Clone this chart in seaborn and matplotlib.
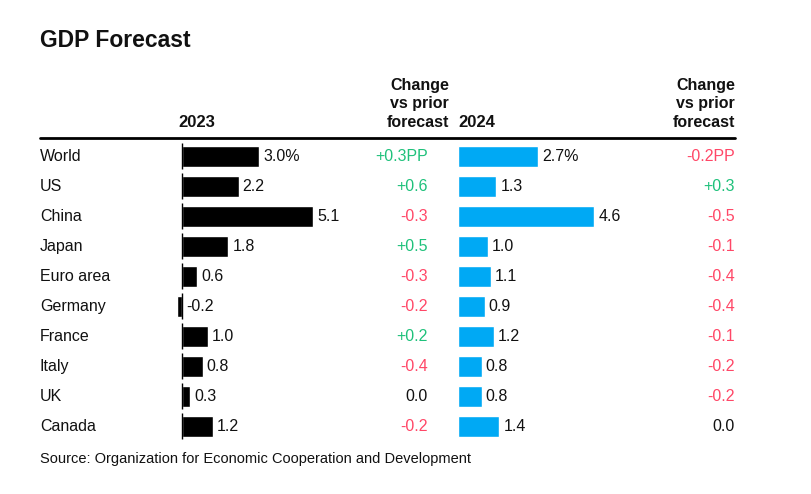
import numpy as np
import pandas as pd
import seaborn as sns
import matplotlib.pyplot as plt
from matplotlib.lines import Line2D
from matplotlib.transforms import blended_transform_factory

# Data
countries = ['World', 'US', 'China', 'Japan', 'Euro area',
             'Germany', 'France', 'Italy', 'UK', 'Canada']
gdp_2023 = [3.0, 2.2, 5.1, 1.8, 0.6, -0.2, 1.0, 0.8, 0.3, 1.2]
chg_2023 = [0.3, 0.6, -0.3, 0.5, -0.3, -0.2, 0.2, -0.4, 0.0, -0.2]
gdp_2024 = [2.7, 1.3, 4.6, 1.0, 1.1, 0.9, 1.2, 0.8, 0.8, 1.4]
chg_2024 = [-0.2, 0.3, -0.5, -0.1, -0.4, -0.4, -0.1, -0.2, -0.2, 0.0]

df = pd.DataFrame({'country': countries, 'y2023': gdp_2023, 'y2024': gdp_2024})

sns.set_theme(style='white')
plt.rcParams['font.family'] = ['Liberation Sans', 'DejaVu Sans']

W, H = 812, 494
fig = plt.figure(figsize=(W / 100, H / 100), dpi=100)


def fx(px):
    return px / W


def fy(py):
    return 1 - py / H


GREEN = '#1fc17b'
RED = '#ff4767'
BLUE = '#00a9f4'
TXT = '#111111'
n = len(countries)
row_top, row_bot = 141, 441


def bar_panel(left_px, zero_px, scale, width_px, col, color):
    ax = fig.add_axes([fx(left_px), fy(row_bot), width_px / W, (row_bot - row_top) / H])
    sns.barplot(data=df, x=col, y='country', orient='h', color=color,
                width=0.7, saturation=1, ax=ax)
    ax.set_xlim(-(zero_px - left_px) / scale, (width_px - (zero_px - left_px)) / scale)
    ax.set_ylim(n - 0.5, -0.5)
    ax.axis('off')
    return ax


ax1 = bar_panel(150, 182, 25.7, 280, 'y2023', 'black')
ax2 = bar_panel(446, 458, 29.6, 250, 'y2024', BLUE)

# zero lines for the 2023 panel
rows = np.arange(n)
ax1.vlines(np.zeros(n), rows - 0.44, rows + 0.44, color='black', lw=1)

for ax, vals in [(ax1, gdp_2023), (ax2, gdp_2024)]:
    for i, v in enumerate(vals):
        lab = f'{v:.1f}' + ('%' if i == 0 else '')
        ax.annotate(lab, (max(v, 0), i), xytext=(3, -0.5), textcoords='offset points',
                    ha='left', va='center', fontsize=11.5, color=TXT, annotation_clip=False)


def chg_label(v, first):
    s = '0.0' if v == 0 else f'{v:+.1f}'
    return s + ('PP' if first else '')


tr = blended_transform_factory(fig.transFigure, ax1.transData)
for i, c in enumerate(countries):
    ax1.text(fx(40), i, c, transform=tr, ha='left', va='center', fontsize=11.5, color=TXT)

for x_px, chg in [(428, chg_2023), (735, chg_2024)]:
    for i, v in enumerate(chg):
        color = GREEN if v > 0 else (RED if v < 0 else TXT)
        ax1.text(fx(x_px), i, chg_label(v, i == 0), transform=tr, ha='right',
                 va='center', fontsize=11.5, color=color)

# headers
fig.text(fx(40), fy(47), 'GDP Forecast', fontsize=16.5, fontweight='bold',
         ha='left', va='baseline', color=TXT)
fig.text(fx(197), fy(127), '2023', fontsize=12, fontweight='bold',
         ha='center', va='baseline', color=TXT)
fig.text(fx(458), fy(127), '2024', fontsize=12, fontweight='bold',
         ha='left', va='baseline', color=TXT)
for x_px in [449, 735]:
    fig.text(fx(x_px), fy(127), 'Change\nvs prior\nforecast', fontsize=11.5,
             fontweight='bold', ha='right', va='baseline', multialignment='right',
             linespacing=1.3, color=TXT)

fig.add_artist(Line2D([fx(40), fx(735)], [fy(138), fy(138)], color='black', lw=2))

fig.text(fx(40), fy(463), 'Source: Organization for Economic Cooperation and Development',
         fontsize=10.5, ha='left', va='baseline', color=TXT)

fig.savefig('out.png', dpi=100)
